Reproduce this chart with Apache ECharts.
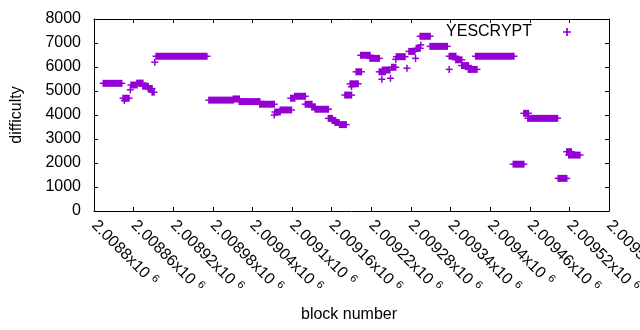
<!DOCTYPE html>
<html>
<head>
<meta charset="utf-8">
<script src="https://cdn.jsdelivr.net/npm/echarts@6/dist/echarts.min.js"></script>
<style>
  html, body { margin: 0; padding: 0; background: #fff; }
  #chart { width: 640px; height: 330px; }
</style>
</head>
<body>
<div id="chart"></div>
<script>
// runs of consecutive blocks sharing one difficulty (single points have start == end)
const runStart = [
  2008814, 2008844, 2008846, 2008855, 2008856, 2008865, 2008874, 2008882, 2008888, 2008892,
  2008894, 2008974, 2009011, 2009020, 2009051, 2009073, 2009074, 2009082, 2009098, 2009104,
  2009120, 2009130, 2009135, 2009155, 2009161, 2009165, 2009172, 2009180, 2009190, 2009188,
  2009197, 2009204, 2009218, 2009232, 2009236, 2009237, 2009249, 2009251, 2009257, 2009258,
  2009274, 2009277, 2009287, 2009288, 2009295, 2009294, 2009309, 2009338, 2009338, 2009348,
  2009357, 2009367, 2009378, 2009435, 2009451, 2009457, 2009503, 2009516, 2009519
];
const runEnd = [
  2008842, 2008853, 2008846, 2008855, 2008865, 2008874, 2008882, 2008888, 2008891, 2008892,
  2008971, 2009011, 2009020, 2009051, 2009073, 2009073, 2009082, 2009099, 2009104, 2009120,
  2009130, 2009135, 2009155, 2009161, 2009166, 2009171, 2009182, 2009190, 2009190, 2009200,
  2009205, 2009218, 2009232, 2009241, 2009236, 2009248, 2009249, 2009257, 2009257, 2009271,
  2009274, 2009286, 2009287, 2009294, 2009295, 2009309, 2009335, 2009338, 2009348, 2009357,
  2009367, 2009380, 2009436, 2009451, 2009458, 2009502, 2009516, 2009523, 2009536
];
const runDifficulty = [
  5320, 4700, 4600, 5050, 5250, 5330, 5200, 5100, 4950, 6200,
  6450, 4620, 4670, 4560, 4450, 4000, 4125, 4210, 4700, 4780,
  4450, 4330, 4240, 3860, 3770, 3690, 3600, 4830, 5180, 5300,
  5800, 6490, 6360, 5800, 5490, 5875, 5530, 5990, 6320, 6430,
  5950, 6650, 6360, 6780, 6920, 7280, 6860, 5900, 6450, 6300,
  6060, 5900, 6450, 1950, 4070, 3860, 1360, 2470, 2330
];
const xTickLabels = [
  '2.0088', '2.00886', '2.00892', '2.00898', '2.00904', '2.0091', '2.00916',
  '2.00922', '2.00928', '2.00934', '2.0094', '2.00946', '2.00952', '2.00958'
];
const seriesName = 'YESCRYPT';

const xMin = 2008800, xStep = 60;
const xMax = xMin + xStep * (xTickLabels.length - 1);
const color = '#9400d3';
const font = 'Liberation Sans, Arial, sans-serif';

const chart = echarts.init(document.getElementById('chart'));

const tick = { show: true, inside: true, length: 4, lineStyle: { color: '#000' } };
const line = { show: true, onZero: false, lineStyle: { color: '#000', width: 1 } };

chart.setOption({
  animation: false,
  grid: { left: 94, right: 31, top: 19, bottom: 119, containLabel: false, outerBoundsMode: 'none' },
  legend: {
    right: 64,
    top: 19,
    align: 'right',
    itemWidth: 8,
    itemHeight: 8,
    icon: 'path://M2.75 0h1.5v2.75h2.75v1.5h-2.75v2.75h-1.5v-2.75h-2.75v-1.5h2.75z',
    itemStyle: { color },
    textStyle: { fontFamily: font, fontSize: 16, color: '#000', padding: [0, 26, 0, 0] },
    data: [seriesName]
  },
  xAxis: [
    {
      type: 'value', min: xMin, max: xMax, interval: xStep,
      axisLine: line, axisTick: tick, splitLine: { show: false },
      axisLabel: {
        rotate: -45, margin: 12, showMaxLabel: true, hideOverlap: false, color: '#000',
        fontFamily: font, fontSize: 16,
        formatter: v => xTickLabels[Math.round((v - xMin) / xStep)] + 'x10{s|6}',
        rich: { s: { fontFamily: font, fontSize: 11, padding: [0, 0, 8, 5] } }
      }
    },
    {
      type: 'value', position: 'top', min: xMin, max: xMax, interval: xStep,
      axisLine: line, axisTick: tick, axisLabel: { show: false }, splitLine: { show: false }
    }
  ],
  yAxis: [
    {
      type: 'value', min: 0, max: 8000, interval: 1000,
      axisLine: line, axisTick: tick, splitLine: { show: false },
      axisLabel: { margin: 13, color: '#000', fontFamily: font, fontSize: 16, formatter: v => String(v) }
    },
    {
      type: 'value', position: 'right', min: 0, max: 8000, interval: 1000,
      axisLine: line, axisTick: tick, axisLabel: { show: false }, splitLine: { show: false }
    }
  ],
  graphic: [
    {
      type: 'text', x: 17, y: 115, rotation: Math.PI / 2,
      style: { text: 'difficulty', font: '16px ' + font, fill: '#000', align: 'center', verticalAlign: 'middle' }
    },
    {
      type: 'text', x: 349, y: 315,
      style: { text: 'block number', font: '16px ' + font, fill: '#000', align: 'center', verticalAlign: 'middle' }
    }
  ],
  series: [
    {
      name: seriesName,
      type: 'custom',
      itemStyle: { color },
      encode: { x: [0, 1], y: 2 },
      data: runStart.map((s, i) => [s, runEnd[i], runDifficulty[i]]),
      renderItem: (params, api) => {
        const a = api.coord([api.value(0), api.value(2)]);
        const b = api.coord([api.value(1), api.value(2)]);
        const h = 7, arm = 3.5, lw = 1.5;
        return {
          type: 'group',
          children: [
            { type: 'rect', shape: { x: a[0] - lw / 2, y: a[1] - h / 2, width: b[0] - a[0] + lw, height: h }, style: { fill: color } },
            { type: 'rect', shape: { x: a[0] - arm, y: a[1] - lw / 2, width: b[0] - a[0] + 2 * arm, height: lw }, style: { fill: color } }
          ]
        };
      }
    }
  ]
});
</script>
</body>
</html>
